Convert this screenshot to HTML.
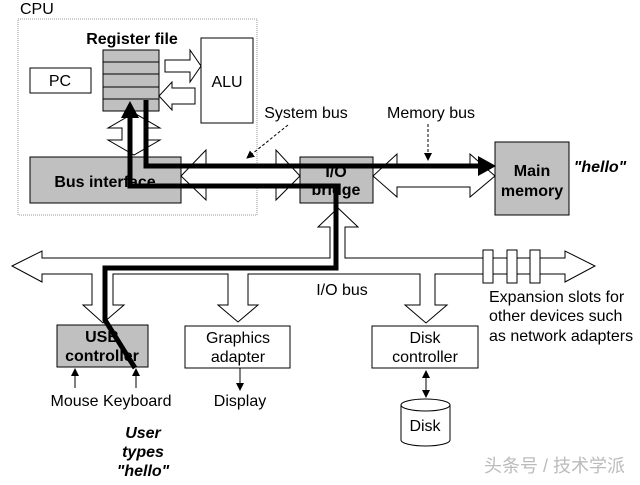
<!DOCTYPE html>
<html><head><meta charset="utf-8"><style>
html,body{margin:0;padding:0;background:#fff;}
svg{display:block;font-family:"Liberation Sans",Arial,sans-serif;}
</style></head><body>
<svg width="640" height="485" viewBox="0 0 640 485" xmlns="http://www.w3.org/2000/svg">
<defs>
<marker id="ah" markerWidth="8" markerHeight="8" refX="7" refY="4" orient="auto" markerUnits="userSpaceOnUse"><path d="M0,0 L8,4 L0,8 z" fill="#000"/></marker>
<marker id="ahs" markerWidth="8" markerHeight="8" refX="1" refY="4" orient="auto" markerUnits="userSpaceOnUse"><path d="M8,0 L0,4 L8,8 z" fill="#000"/></marker>
</defs>
<text x="20" y="14" font-size="16">CPU</text>
<rect x="18" y="19" width="239" height="196" fill="none" stroke="#999" stroke-dasharray="1,1"/>
<text x="132" y="44" font-size="16" font-weight="bold" text-anchor="middle">Register file</text>
<rect x="103" y="50" width="56" height="61" fill="#c0c0c0" stroke="#000"/>
<g stroke="#000"><line x1="103" y1="62" x2="159" y2="62"/><line x1="103" y1="74" x2="159" y2="74"/><line x1="103" y1="87" x2="159" y2="87"/><line x1="103" y1="99" x2="159" y2="99"/></g>
<rect x="30" y="68" width="61" height="25" fill="#fff" stroke="#000"/>
<text x="60" y="86" font-size="16" text-anchor="middle">PC</text>
<rect x="201" y="38" width="52" height="85" fill="#fff" stroke="#000"/>
<text x="227" y="87" font-size="16" text-anchor="middle">ALU</text>
<g fill="#fff" stroke="#000">
<path d="M165,60 L190,60 L190,50 L201,66 L190,82 L190,72 L165,72 z"/>
<path d="M195,88 L172,88 L172,82 L159,96 L172,110 L172,104 L195,104 z"/>
<path d="M122,128 L108,128 L134,113 L160,128 L146,128 L146,140 L160,140 L134,155 L108,140 L122,140 z"/>
<rect x="30" y="157" width="151" height="46" fill="#c0c0c0"/>
<path d="M181,176 L206,150 L206,165 L276,165 L276,150 L300,176 L276,200 L276,186 L206,186 L206,200 z"/>
<rect x="300" y="157" width="73" height="46" fill="#c0c0c0"/>
<path d="M373,176 L397,154 L397,166 L470,166 L470,154 L495,176 L470,197 L470,187 L397,187 L397,197 z"/>
<rect x="495" y="142" width="74" height="73" fill="#c0c0c0"/>
<path d="M12,266 L42,251 L42,258 L330,258 L330,227 L318,227 L338,208 L358,227 L345,227 L345,258 L565,258 L565,251 L595,266 L565,282 L565,274 L435,274 L435,305 L447,305 L426,323 L405,305 L420,305 L420,274 L248,274 L248,305 L258,305 L238,322 L218,305 L228,305 L228,274 L113,274 L113,305 L124,305 L103,323 L83,305 L92,305 L92,274 L42,274 L42,282 z"/>
<rect x="483" y="250" width="10" height="33"/><rect x="507" y="250" width="10" height="33"/><rect x="530" y="250" width="10" height="33"/>
<rect x="57" y="325" width="91" height="42" fill="#c0c0c0"/>
<rect x="185" y="326" width="105" height="42"/>
<rect x="372" y="326" width="106" height="42"/>
<path d="M401,405 L401,440 A24.5,6 0 0 0 450,440 L450,405 A24.5,6 0 0 0 401,405 A24.5,6 0 0 0 450,405"/>
</g>
<g font-size="16" font-weight="bold" text-anchor="middle">
<text x="105" y="187">Bus interface</text>
<text x="336" y="177">I/O</text><text x="336" y="195">bridge</text>
<text x="532" y="176">Main</text><text x="532" y="196">memory</text>
<text x="102" y="342">USB</text><text x="102" y="361">controller</text>
</g>
<text x="600" y="172" font-size="16" font-weight="bold" font-style="italic" text-anchor="middle">"hello"</text>
<g font-size="16" text-anchor="middle">
<text x="306" y="118">System bus</text>
<text x="431" y="118">Memory bus</text>
<text x="342" y="295">I/O bus</text>
<text x="238" y="343">Graphics</text><text x="238" y="362">adapter</text>
<text x="425" y="343">Disk</text><text x="425" y="362">controller</text>
<text x="425" y="431">Disk</text>
<text x="111" y="406">Mouse Keyboard</text>
<text x="240" y="406">Display</text>
</g>
<g font-size="16">
<text x="489" y="302">Expansion slots for</text>
<text x="489" y="321">other devices such</text>
<text x="489" y="341">as network adapters</text>
</g>
<g font-size="16" font-weight="bold" font-style="italic" text-anchor="middle">
<text x="143" y="438">User</text><text x="143" y="457">types</text><text x="143" y="476">"hello"</text>
</g>
<g stroke="#000" stroke-width="1">
<line x1="288" y1="125" x2="247" y2="158" stroke-dasharray="3,2" marker-end="url(#ah)"/>
<line x1="428" y1="124" x2="428" y2="160" stroke-dasharray="3,2" marker-end="url(#ah)"/>
<line x1="75" y1="388" x2="75" y2="369" marker-end="url(#ah)"/>
<line x1="136" y1="388" x2="136" y2="369" marker-end="url(#ah)"/>
<line x1="240" y1="368" x2="240" y2="390" marker-end="url(#ah)"/>
<line x1="426" y1="371" x2="426" y2="397" marker-end="url(#ah)" marker-start="url(#ahs)"/>
</g>
<g fill="none" stroke="#000" stroke-width="5">
<path d="M146,100 L146,166 L480,166"/>
<path d="M130,118 L130,186 L336,186 L336,268 L105,268 L105,320 L135,368"/>
</g>
<path d="M478,156 L496,166 L478,176 z" fill="#000"/>
<path d="M121,118 L130,101 L139,118 z" fill="#000"/>
<text x="484" y="472" font-size="18" fill="#bbb" font-family="'Liberation Sans','Noto Sans CJK SC',sans-serif">头条号 / 技术学派</text>
</svg>
</body></html>
